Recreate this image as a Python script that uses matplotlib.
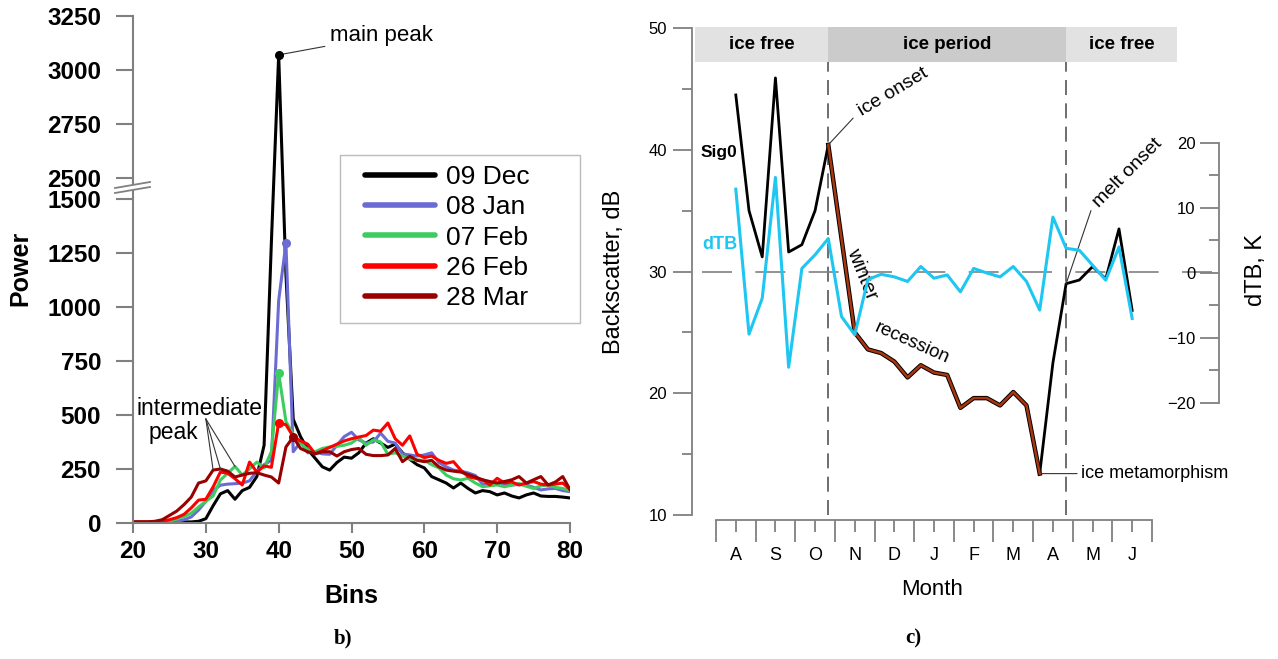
import numpy as np
import matplotlib
matplotlib.use("Agg")
import matplotlib.pyplot as plt
from matplotlib.lines import Line2D
from matplotlib.patches import Rectangle, Polygon

plt.rcParams['font.family'] = ['Liberation Sans', 'DejaVu Sans']

# ---------------- panel b) data ----------------
bins = np.arange(20, 81)
p_09dec = [5, 5, 5, 5, 5, 5, 5, 5, 5, 8, 20, 80, 135, 150, 110, 150, 165, 215, 360, 1300,
           3070, 1150, 480, 400, 340, 300, 260, 245, 280, 305, 300, 325, 370, 390, 370, 350,
           365, 325, 295, 270, 255, 215, 200, 185, 162, 185, 160, 139, 150, 145, 130, 139,
           125, 116, 130, 139, 125, 123, 123, 120, 116]
p_08jan = [5, 5, 5, 5, 5, 5, 8, 15, 28, 60, 100, 150, 175, 180, 182, 185, 195, 240, 270, 290,
           1030, 1295, 330, 375, 325, 330, 320, 318, 360, 400, 420, 385, 370, 375, 416, 378,
           370, 320, 315, 310, 315, 325, 280, 260, 245, 240, 232, 220, 180, 178, 185, 180,
           176, 178, 176, 165, 153, 158, 160, 150, 145]
p_07feb = [5, 5, 5, 5, 5, 10, 18, 30, 45, 74, 100, 125, 199, 230, 262, 222, 250, 282, 255, 330,
           694, 470, 410, 370, 340, 330, 345, 352, 355, 360, 370, 395, 360, 385, 375, 318,
           325, 310, 296, 292, 290, 270, 255, 222, 205, 199, 207, 185, 168, 172, 176, 168,
           175, 183, 170, 160, 172, 176, 165, 160, 150]
p_26feb = [5, 5, 5, 5, 8, 15, 25, 40, 70, 106, 110, 167, 236, 230, 205, 176, 282, 236, 264, 258,
           463, 455, 400, 380, 365, 320, 335, 350, 365, 380, 390, 398, 405, 430, 425, 463,
           390, 360, 403, 318, 303, 310, 290, 276, 284, 245, 215, 207, 200, 176, 207, 185,
           190, 176, 185, 192, 180, 176, 180, 185, 155]
p_28mar = [5, 5, 5, 8, 15, 35, 55, 85, 120, 185, 195, 245, 250, 240, 213, 222, 230, 233, 222, 213,
           185, 352, 398, 345, 330, 320, 330, 330, 310, 330, 340, 345, 318, 312, 312, 315,
           345, 284, 309, 290, 284, 290, 260, 245, 240, 236, 225, 213, 200, 192, 185, 192,
           200, 215, 185, 200, 215, 176, 190, 215, 155]
series_labels = ['09 Dec', '08 Jan', '07 Feb', '26 Feb', '28 Mar']
series_values = [p_09dec, p_08jan, p_07feb, p_26feb, p_28mar]
series_colors = ['#000000', '#6b6bd4', '#3dcc5e', '#ff0000', '#990000']
peak_bins = [40, 41, 40, 40, 42]
power_ticks = [0, 250, 500, 750, 1000, 1250, 1500, 2500, 2750, 3000, 3250]
break_lo, break_hi = 1500, 2500

# ---------------- panel c) data ----------------
months = ['A', 'S', 'O', 'N', 'D', 'J', 'F', 'M', 'A', 'M', 'J']
dekad = np.arange(31)
sig0_dekads = [0, 1, 2, 3, 4, 5, 6, 7, 9, 10, 11, 12, 13, 14, 15, 16, 17, 18, 19, 20, 21, 22,
               23, 24, 25, 26, 27, 28, 29, 30]
sig0_db = [44.5, 35.0, 31.2, 45.9, 31.6, 32.2, 35.0, 40.4, 25.0, 23.6, 23.3, 22.6, 21.3, 22.3,
           21.7, 21.5, 18.8, 19.6, 19.6, 19.0, 20.1, 19.0, 13.4, 22.5, 29.0, 29.3, 30.4, 29.4,
           33.5, 26.8]
dtb_k = [12.9, -9.4, -3.9, 14.7, -14.5, 0.7, 2.8, 5.3, -6.7, -9.5, -1.0, -0.2, -0.6, -1.3, 1.0,
         -0.8, -0.3, -2.9, 0.7, 0.0, -0.6, 1.0, -1.3, -5.7, 8.6, 3.8, 3.5, 1.2, -1.1, 4.0, -7.0]
ice_onset, metamorph, melt_onset = 7, 23, 25
periods = ['ice free', 'ice period', 'ice free']


def dek_x(d):
    return 0.5 + np.asarray(d, dtype=float) / 3.0


W, H = 1278, 659
fig = plt.figure(figsize=(W / 100, H / 100), dpi=100)


def rect(x0, y0, x1, y1):
    return [x0 / W, 1 - y1 / H, (x1 - x0) / W, (y1 - y0) / H]


def fpt(x, y):
    return (x / W, 1 - y / H)


GRAY = '#808080'

# ================= panel b =================
GAP = 0.097  # compression of the broken range


def brk_fwd(y):
    y = np.asarray(y, dtype=float)
    return np.where(y <= break_lo, y,
                    np.where(y >= break_hi, y - (break_hi - break_lo) * (1 - GAP),
                             break_lo + (y - break_lo) * GAP))


def brk_inv(v):
    v = np.asarray(v, dtype=float)
    top = break_lo + (break_hi - break_lo) * GAP
    return np.where(v <= break_lo, v,
                    np.where(v >= top, v + (break_hi - break_lo) * (1 - GAP),
                             break_lo + (v - break_lo) / GAP))


axb = fig.add_axes(rect(133, 16, 570, 523))
axb.set_yscale('function', functions=(brk_fwd, brk_inv))
for vals, col in zip(series_values, series_colors):
    axb.plot(bins, vals, color=col, lw=2.2)
for vals, col, pb in zip(series_values, series_colors, peak_bins):
    i = list(bins).index(pb)
    axb.plot(bins[i], vals[i], 'o', color=col, ms=5.5, zorder=5)

axb.set_xlim(20, 80)
axb.set_ylim(0, 3250)
axb.set_yticks(power_ticks)
axb.set_yticks([], minor=True)
axb.set_xticks(np.arange(20, 81, 10))
axb.spines['right'].set_visible(False)
axb.spines['top'].set_visible(False)
for s in ('left', 'bottom'):
    axb.spines[s].set_color(GRAY)
    axb.spines[s].set_linewidth(1.5)
axb.spines['bottom'].set_bounds(20, 80)
axb.tick_params(axis='y', direction='out', length=12, width=1.5, color=GRAY,
                labelsize=17.5, pad=11)
axb.tick_params(axis='x', direction='out', length=7, width=1.5, color=GRAY,
                labelsize=17.5, pad=5)
for lbl in axb.get_yticklabels() + axb.get_xticklabels():
    lbl.set_fontweight('bold')
axb.set_xlabel('Bins', fontsize=18, fontweight='bold', labelpad=13)
axb.xaxis.set_label_coords(0.5, (523 - 584) / 507)

fig.text(20 / W, 1 - 268 / H, 'Power', rotation=90, ha='center', va='center',
         fontsize=18, fontweight='bold')

# axis break marks
fig.add_artist(Polygon([fpt(115, 188), fpt(150, 182), fpt(150, 187), fpt(115, 193)],
                       closed=True, transform=fig.transFigure, facecolor='white',
                       edgecolor='none', zorder=10))
for dy in (0, 5):
    fig.add_artist(Line2D([115 / W, 150 / W], [1 - (188 + dy) / H, 1 - (182 + dy) / H],
                          transform=fig.transFigure, color=GRAY, lw=1.3, zorder=11))

# annotations
axb.annotate('main peak', xy=(40, p_09dec[20]), xytext=(47.1, 3158),
             fontsize=16, va='center', ha='left',
             arrowprops=dict(arrowstyle='-', color='#333333', lw=0.8,
                             shrinkA=2, shrinkB=2))
axb.text(29.1, 475, 'intermediate', fontsize=16.5, ha='center', va='bottom')
axb.text(28.9, 470, 'peak', fontsize=16.5, ha='right', va='top')
for b in (31, 32, 34):
    i = list(bins).index(b)
    v = max(p_28mar[i], p_26feb[i], p_07feb[i])
    axb.annotate('', xy=(b, v), xytext=(30.0, 482),
                 arrowprops=dict(arrowstyle='-', color='#333333', lw=0.8,
                                 shrinkA=0, shrinkB=0))

# legend: frame drawn separately, entries placed without frame
fig.add_artist(Rectangle(fpt(340, 323), 240 / W, 168 / H, transform=fig.transFigure,
                         facecolor='white', edgecolor='#bbbbbb', lw=1.0, zorder=6))
handles = [Line2D([], [], color=c, lw=4, solid_capstyle='round') for c in series_colors]
leg = fig.legend(handles, series_labels, loc='upper left', bbox_to_anchor=fpt(365, 165),
                 fontsize=19, frameon=False, handlelength=2.65, handletextpad=0.42,
                 labelspacing=0.24, borderpad=0.0, borderaxespad=0)
leg.set_zorder(7)

fig.text(343 / W, 1 - 638 / H, 'b)', family='Liberation Serif', fontweight='bold',
         fontsize=15, ha='center', va='center')

# ================= panel c =================
axr = fig.add_axes(rect(692, 28, 1219, 515))
axr.set_xlim(-0.605, 12.69)
axr.set_ylim(10, 50)
axr.spines['top'].set_visible(False)
axr.spines['right'].set_visible(False)
for s in ('left', 'bottom'):
    axr.spines[s].set_color(GRAY)
    axr.spines[s].set_linewidth(1.3)
axr.spines['bottom'].set_position(('outward', 3.6))
axr.spines['bottom'].set_bounds(0, 11)
axr.set_yticks(np.arange(10, 51, 10))
axr.set_yticks(np.arange(15, 50, 10), minor=True)
axr.tick_params(axis='y', which='major', direction='out', length=14, width=1.3,
                color=GRAY, labelsize=12, pad=4)
axr.tick_params(axis='y', which='minor', direction='out', length=7, width=1.3, color=GRAY)
axr.set_xticks(np.arange(0, 12), labels=[''] * 12)
axr.set_xticks(np.arange(0.5, 11), labels=months, minor=True)
axr.tick_params(axis='x', which='major', direction='out', length=16, width=1.3, color=GRAY)
axr.tick_params(axis='x', which='minor', direction='out', length=8.6, width=1.3,
                color=GRAY, labelsize=13, pad=11)
axr.set_xlabel('Month', fontsize=16)
axr.xaxis.set_label_coords((932 - 692) / 527, (515 - 579) / 487)
axr.set_ylabel('Backscatter, dB', fontsize=17)
axr.yaxis.set_label_coords((625 - 692) / 527, 0.5)

# header boxes
hdr_lo, hdr_hi = 47.2, 50.05
bounds = [-0.53, dek_x(ice_onset), dek_x(melt_onset), 11.63]
cols = ['#e2e2e2', '#cbcbcb', '#e2e2e2']
for k, name in enumerate(periods):
    axr.add_patch(Rectangle((bounds[k], hdr_lo), bounds[k + 1] - bounds[k], hdr_hi - hdr_lo,
                            facecolor=cols[k], edgecolor='none', clip_on=False, zorder=1))
    axr.text((bounds[k] + bounds[k + 1]) / 2, (hdr_lo + hdr_hi) / 2, name, ha='center',
             va='center', fontsize=13.5, fontweight='bold', zorder=2)

# dashed markers
axr.vlines([dek_x(ice_onset), dek_x(melt_onset)], 10, hdr_lo, colors='#555555',
           lw=1.2, linestyles=(0, (9, 5)), zorder=1)
axr.axhline(30, xmin=(702 - 692) / 527, xmax=1.0, color=GRAY, lw=1.2,
            linestyle=(0, (18, 14)), zorder=1)

# Sig0 line
sx = dek_x(sig0_dekads)
axr.plot(sx, sig0_db, color='black', lw=2.0, zorder=3)
rec = [(d >= ice_onset) and (d <= metamorph) for d in sig0_dekads]
rx = [x for x, m in zip(sx, rec) if m]
ry = [y for y, m in zip(sig0_db, rec) if m]
axr.plot(rx, ry, color='black', lw=3.2, zorder=3)
axr.plot(rx, ry, color='#a8360f', lw=1.8, zorder=4)

# dTB twin axis
tw = axr.twinx()
tw.set_ylim(-37.23, 37.69)
tw.plot(dek_x(dekad), dtb_k, color='#1ec6f2', lw=2.2, zorder=3)
for s in ('top', 'bottom', 'right'):
    tw.spines[s].set_visible(False)
tw.spines['left'].set_position(('axes', 1.0))
tw.spines['left'].set_visible(True)
tw.spines['left'].set_color(GRAY)
tw.spines['left'].set_linewidth(1.3)
tw.spines['left'].set_bounds(-20, 20)
tw.yaxis.set_ticks_position('left')
tw.set_yticks(np.arange(-20, 21, 10))
tw.set_yticks(np.arange(-15, 20, 10), minor=True)
tw.tick_params(axis='y', which='major', direction='out', length=14, width=1.3,
               color=GRAY, labelsize=12, pad=3)
tw.tick_params(axis='y', which='minor', direction='out', length=7, width=1.3, color=GRAY)
tw.set_ylabel('dTB, K', fontsize=17)
tw.yaxis.set_label_coords((1245 - 692) / 527, (515 - 270) / 487)

# text annotations
axr.text(-0.40, 39.8, 'Sig0', fontsize=12.5, fontweight='bold', ha='left', va='center')
axr.text(-0.35, 32.2, 'dTB', fontsize=13, fontweight='bold', color='#1ec6f2',
         ha='left', va='center')
onset_y = sig0_db[sig0_dekads.index(ice_onset)]
axr.annotate('', xy=(dek_x(ice_onset), onset_y), xytext=(3.46, 42.6),
             arrowprops=dict(arrowstyle='-', color='#333333', lw=0.8, shrinkA=0, shrinkB=0))
axr.text(3.74, 42.45, 'ice onset', fontsize=14, rotation=31, rotation_mode='anchor',
         ha='left', va='bottom')
axr.text(3.70, 29.8, 'winter', fontsize=14.5, rotation=-68, rotation_mode='anchor',
         ha='center', va='center')
axr.text(4.95, 24.1, 'recession', fontsize=13.5, rotation=-24, rotation_mode='anchor',
         ha='center', va='center')
melt_y = sig0_db[sig0_dekads.index(melt_onset)]
axr.annotate('', xy=(dek_x(melt_onset), melt_y), xytext=(9.46, 35.0),
             arrowprops=dict(arrowstyle='-', color='#333333', lw=0.8, shrinkA=0, shrinkB=0))
axr.text(9.74, 35.0, 'melt onset', fontsize=14, rotation=45, rotation_mode='anchor',
         ha='left', va='bottom')
meta_y = sig0_db[sig0_dekads.index(metamorph)]
axr.annotate('', xy=(dek_x(metamorph), meta_y), xytext=(9.11, meta_y),
             arrowprops=dict(arrowstyle='-', color='#333333', lw=0.8, shrinkA=0, shrinkB=0))
axr.text(9.22, meta_y, 'ice metamorphism', fontsize=13, ha='left', va='center')

fig.text(913 / W, 1 - 638 / H, 'c)', family='Liberation Serif', fontweight='bold',
         fontsize=15, ha='center', va='center')

fig.savefig('out.png', dpi=100)
